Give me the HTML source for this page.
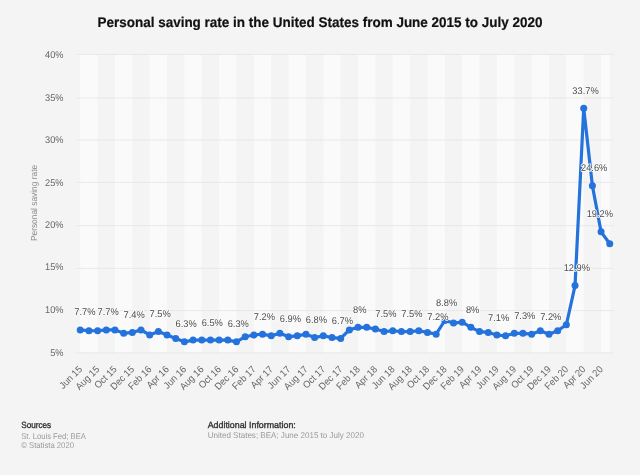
<!DOCTYPE html>
<html><head><meta charset="utf-8"><style>
html,body{margin:0;padding:0;background:#f4f4f4;width:640px;height:475px;overflow:hidden}
svg{display:block;will-change:transform;text-rendering:geometricPrecision;font-family:"Liberation Sans",sans-serif}
</style></head><body>
<svg width="640" height="475" viewBox="0 0 640 475">
<rect x="0" y="0" width="640" height="475" fill="#f4f4f4"/>
<rect x="80.24" y="54.50" width="17.36" height="298.40" fill="#fafafa"/>
<rect x="114.96" y="54.50" width="17.36" height="298.40" fill="#fafafa"/>
<rect x="149.69" y="54.50" width="17.36" height="298.40" fill="#fafafa"/>
<rect x="184.41" y="54.50" width="17.36" height="298.40" fill="#fafafa"/>
<rect x="219.13" y="54.50" width="17.36" height="298.40" fill="#fafafa"/>
<rect x="253.85" y="54.50" width="17.36" height="298.40" fill="#fafafa"/>
<rect x="288.58" y="54.50" width="17.36" height="298.40" fill="#fafafa"/>
<rect x="323.30" y="54.50" width="17.36" height="298.40" fill="#fafafa"/>
<rect x="358.02" y="54.50" width="17.36" height="298.40" fill="#fafafa"/>
<rect x="392.74" y="54.50" width="17.36" height="298.40" fill="#fafafa"/>
<rect x="427.47" y="54.50" width="17.36" height="298.40" fill="#fafafa"/>
<rect x="462.19" y="54.50" width="17.36" height="298.40" fill="#fafafa"/>
<rect x="496.91" y="54.50" width="17.36" height="298.40" fill="#fafafa"/>
<rect x="531.63" y="54.50" width="17.36" height="298.40" fill="#fafafa"/>
<rect x="566.36" y="54.50" width="17.36" height="298.40" fill="#fafafa"/>
<rect x="601.08" y="54.50" width="8.68" height="298.40" fill="#fafafa"/>
<line x1="75.9" y1="54.40" x2="614.1" y2="54.40" stroke="#e3e3e3" stroke-width="1" stroke-dasharray="1.5,0.5"/>
<text x="63.50" y="58.25" text-anchor="end" font-size="9.8" fill="#666" textLength="18.41" lengthAdjust="spacingAndGlyphs">40%</text>
<line x1="75.9" y1="97.90" x2="614.1" y2="97.90" stroke="#e3e3e3" stroke-width="1" stroke-dasharray="1.5,0.5"/>
<text x="63.50" y="100.65" text-anchor="end" font-size="9.8" fill="#666" textLength="18.41" lengthAdjust="spacingAndGlyphs">35%</text>
<line x1="75.9" y1="140.10" x2="614.1" y2="140.10" stroke="#e3e3e3" stroke-width="1" stroke-dasharray="1.5,0.5"/>
<text x="63.50" y="143.35" text-anchor="end" font-size="9.8" fill="#666" textLength="18.41" lengthAdjust="spacingAndGlyphs">30%</text>
<line x1="75.9" y1="182.40" x2="614.1" y2="182.40" stroke="#e3e3e3" stroke-width="1" stroke-dasharray="1.5,0.5"/>
<text x="63.50" y="185.60" text-anchor="end" font-size="9.8" fill="#666" textLength="18.41" lengthAdjust="spacingAndGlyphs">25%</text>
<line x1="75.9" y1="225.70" x2="614.1" y2="225.70" stroke="#e3e3e3" stroke-width="1" stroke-dasharray="1.5,0.5"/>
<text x="63.50" y="227.65" text-anchor="end" font-size="9.8" fill="#666" textLength="18.41" lengthAdjust="spacingAndGlyphs">20%</text>
<line x1="75.9" y1="268.40" x2="614.1" y2="268.40" stroke="#e3e3e3" stroke-width="1" stroke-dasharray="1.5,0.5"/>
<text x="63.50" y="269.95" text-anchor="end" font-size="9.8" fill="#666" textLength="18.41" lengthAdjust="spacingAndGlyphs">15%</text>
<line x1="75.9" y1="310.60" x2="614.1" y2="310.60" stroke="#e3e3e3" stroke-width="1" stroke-dasharray="1.5,0.5"/>
<text x="63.50" y="312.80" text-anchor="end" font-size="9.8" fill="#666" textLength="18.41" lengthAdjust="spacingAndGlyphs">10%</text>
<line x1="75.9" y1="352.90" x2="614.1" y2="352.90" stroke="#e3e3e3" stroke-width="1" stroke-dasharray="1.5,0.5"/>
<text x="63.50" y="355.50" text-anchor="end" font-size="9.8" fill="#666" textLength="13.30" lengthAdjust="spacingAndGlyphs">5%</text>
<text x="0.00" y="0.00" text-anchor="middle" font-size="8.8" fill="#8a8a8a" textLength="76.20" lengthAdjust="spacingAndGlyphs" transform="translate(36.5,203.00) rotate(-90)">Personal saving rate</text>
<text x="320.00" y="27.00" text-anchor="middle" font-size="14" font-weight="bold" fill="#111" textLength="445.10" lengthAdjust="spacingAndGlyphs" stroke="#111" stroke-width="0.2">Personal saving rate in the United States from June 2015 to July 2020</text>
<text x="0.00" y="0.00" text-anchor="end" font-size="9.8" fill="#666" textLength="27.62" lengthAdjust="spacingAndGlyphs" transform="translate(82.74,369.90) rotate(-45)">Jun 15</text>
<text x="0.00" y="0.00" text-anchor="end" font-size="9.8" fill="#666" textLength="29.16" lengthAdjust="spacingAndGlyphs" transform="translate(100.10,369.90) rotate(-45)">Aug 15</text>
<text x="0.00" y="0.00" text-anchor="end" font-size="9.8" fill="#666" textLength="27.10" lengthAdjust="spacingAndGlyphs" transform="translate(117.46,369.90) rotate(-45)">Oct 15</text>
<text x="0.00" y="0.00" text-anchor="end" font-size="9.8" fill="#666" textLength="29.15" lengthAdjust="spacingAndGlyphs" transform="translate(134.82,369.90) rotate(-45)">Dec 15</text>
<text x="0.00" y="0.00" text-anchor="end" font-size="9.8" fill="#666" textLength="28.64" lengthAdjust="spacingAndGlyphs" transform="translate(152.19,369.90) rotate(-45)">Feb 16</text>
<text x="0.00" y="0.00" text-anchor="end" font-size="9.8" fill="#666" textLength="27.11" lengthAdjust="spacingAndGlyphs" transform="translate(169.55,369.90) rotate(-45)">Apr 16</text>
<text x="0.00" y="0.00" text-anchor="end" font-size="9.8" fill="#666" textLength="27.62" lengthAdjust="spacingAndGlyphs" transform="translate(186.91,369.90) rotate(-45)">Jun 16</text>
<text x="0.00" y="0.00" text-anchor="end" font-size="9.8" fill="#666" textLength="29.16" lengthAdjust="spacingAndGlyphs" transform="translate(204.27,369.90) rotate(-45)">Aug 16</text>
<text x="0.00" y="0.00" text-anchor="end" font-size="9.8" fill="#666" textLength="27.10" lengthAdjust="spacingAndGlyphs" transform="translate(221.63,369.90) rotate(-45)">Oct 16</text>
<text x="0.00" y="0.00" text-anchor="end" font-size="9.8" fill="#666" textLength="29.15" lengthAdjust="spacingAndGlyphs" transform="translate(238.99,369.90) rotate(-45)">Dec 16</text>
<text x="0.00" y="0.00" text-anchor="end" font-size="9.8" fill="#666" textLength="28.64" lengthAdjust="spacingAndGlyphs" transform="translate(256.35,369.90) rotate(-45)">Feb 17</text>
<text x="0.00" y="0.00" text-anchor="end" font-size="9.8" fill="#666" textLength="27.11" lengthAdjust="spacingAndGlyphs" transform="translate(273.71,369.90) rotate(-45)">Apr 17</text>
<text x="0.00" y="0.00" text-anchor="end" font-size="9.8" fill="#666" textLength="27.62" lengthAdjust="spacingAndGlyphs" transform="translate(291.08,369.90) rotate(-45)">Jun 17</text>
<text x="0.00" y="0.00" text-anchor="end" font-size="9.8" fill="#666" textLength="29.16" lengthAdjust="spacingAndGlyphs" transform="translate(308.44,369.90) rotate(-45)">Aug 17</text>
<text x="0.00" y="0.00" text-anchor="end" font-size="9.8" fill="#666" textLength="27.10" lengthAdjust="spacingAndGlyphs" transform="translate(325.80,369.90) rotate(-45)">Oct 17</text>
<text x="0.00" y="0.00" text-anchor="end" font-size="9.8" fill="#666" textLength="29.15" lengthAdjust="spacingAndGlyphs" transform="translate(343.16,369.90) rotate(-45)">Dec 17</text>
<text x="0.00" y="0.00" text-anchor="end" font-size="9.8" fill="#666" textLength="28.64" lengthAdjust="spacingAndGlyphs" transform="translate(360.52,369.90) rotate(-45)">Feb 18</text>
<text x="0.00" y="0.00" text-anchor="end" font-size="9.8" fill="#666" textLength="27.11" lengthAdjust="spacingAndGlyphs" transform="translate(377.88,369.90) rotate(-45)">Apr 18</text>
<text x="0.00" y="0.00" text-anchor="end" font-size="9.8" fill="#666" textLength="27.62" lengthAdjust="spacingAndGlyphs" transform="translate(395.24,369.90) rotate(-45)">Jun 18</text>
<text x="0.00" y="0.00" text-anchor="end" font-size="9.8" fill="#666" textLength="29.16" lengthAdjust="spacingAndGlyphs" transform="translate(412.60,369.90) rotate(-45)">Aug 18</text>
<text x="0.00" y="0.00" text-anchor="end" font-size="9.8" fill="#666" textLength="27.10" lengthAdjust="spacingAndGlyphs" transform="translate(429.97,369.90) rotate(-45)">Oct 18</text>
<text x="0.00" y="0.00" text-anchor="end" font-size="9.8" fill="#666" textLength="29.15" lengthAdjust="spacingAndGlyphs" transform="translate(447.33,369.90) rotate(-45)">Dec 18</text>
<text x="0.00" y="0.00" text-anchor="end" font-size="9.8" fill="#666" textLength="28.64" lengthAdjust="spacingAndGlyphs" transform="translate(464.69,369.90) rotate(-45)">Feb 19</text>
<text x="0.00" y="0.00" text-anchor="end" font-size="9.8" fill="#666" textLength="27.11" lengthAdjust="spacingAndGlyphs" transform="translate(482.05,369.90) rotate(-45)">Apr 19</text>
<text x="0.00" y="0.00" text-anchor="end" font-size="9.8" fill="#666" textLength="27.62" lengthAdjust="spacingAndGlyphs" transform="translate(499.41,369.90) rotate(-45)">Jun 19</text>
<text x="0.00" y="0.00" text-anchor="end" font-size="9.8" fill="#666" textLength="29.16" lengthAdjust="spacingAndGlyphs" transform="translate(516.77,369.90) rotate(-45)">Aug 19</text>
<text x="0.00" y="0.00" text-anchor="end" font-size="9.8" fill="#666" textLength="27.10" lengthAdjust="spacingAndGlyphs" transform="translate(534.13,369.90) rotate(-45)">Oct 19</text>
<text x="0.00" y="0.00" text-anchor="end" font-size="9.8" fill="#666" textLength="29.15" lengthAdjust="spacingAndGlyphs" transform="translate(551.50,369.90) rotate(-45)">Dec 19</text>
<text x="0.00" y="0.00" text-anchor="end" font-size="9.8" fill="#666" textLength="28.64" lengthAdjust="spacingAndGlyphs" transform="translate(568.86,369.90) rotate(-45)">Feb 20</text>
<text x="0.00" y="0.00" text-anchor="end" font-size="9.8" fill="#666" textLength="27.11" lengthAdjust="spacingAndGlyphs" transform="translate(586.22,369.90) rotate(-45)">Apr 20</text>
<text x="0.00" y="0.00" text-anchor="end" font-size="9.8" fill="#666" textLength="27.62" lengthAdjust="spacingAndGlyphs" transform="translate(603.58,369.90) rotate(-45)">Jun 20</text>
<polyline points="80.24,329.88 88.92,330.73 97.60,330.73 106.28,329.88 114.96,329.88 123.64,333.29 132.32,332.44 141.00,329.88 149.69,335.00 158.37,331.59 167.05,335.00 175.73,338.41 184.41,341.82 193.09,340.11 201.77,340.11 210.45,340.11 219.13,340.11 227.81,340.11 236.49,341.82 245.17,336.70 253.85,335.00 262.53,334.14 271.21,335.85 279.90,333.29 288.58,336.70 297.26,335.85 305.94,334.14 314.62,337.55 323.30,335.85 331.98,337.55 340.66,338.41 349.34,329.88 358.02,327.32 366.70,327.32 375.38,329.03 384.06,331.59 392.74,330.73 401.42,331.59 410.10,331.59 418.79,330.73 427.47,332.44 436.15,334.14 444.83,320.50 453.51,323.06 462.19,322.21 470.87,327.32 479.55,331.59 488.23,332.44 496.91,335.00 505.59,335.85 514.27,333.29 522.95,333.29 531.63,334.14 540.31,330.73 549.00,334.14 557.68,330.73 566.36,324.77 575.04,285.55 583.72,108.21 592.40,185.80 601.08,231.83 609.76,243.77" fill="none" stroke="#2472dc" stroke-width="3.2" stroke-linejoin="round" stroke-linecap="round"/>
<circle cx="80.24" cy="329.88" r="3.5" fill="#2472dc"/>
<circle cx="88.92" cy="330.73" r="3.5" fill="#2472dc"/>
<circle cx="97.60" cy="330.73" r="3.5" fill="#2472dc"/>
<circle cx="106.28" cy="329.88" r="3.5" fill="#2472dc"/>
<circle cx="114.96" cy="329.88" r="3.5" fill="#2472dc"/>
<circle cx="123.64" cy="333.29" r="3.5" fill="#2472dc"/>
<circle cx="132.32" cy="332.44" r="3.5" fill="#2472dc"/>
<circle cx="141.00" cy="329.88" r="3.5" fill="#2472dc"/>
<circle cx="149.69" cy="335.00" r="3.5" fill="#2472dc"/>
<circle cx="158.37" cy="331.59" r="3.5" fill="#2472dc"/>
<circle cx="167.05" cy="335.00" r="3.5" fill="#2472dc"/>
<circle cx="175.73" cy="338.41" r="3.5" fill="#2472dc"/>
<circle cx="184.41" cy="341.82" r="3.5" fill="#2472dc"/>
<circle cx="193.09" cy="340.11" r="3.5" fill="#2472dc"/>
<circle cx="201.77" cy="340.11" r="3.5" fill="#2472dc"/>
<circle cx="210.45" cy="340.11" r="3.5" fill="#2472dc"/>
<circle cx="219.13" cy="340.11" r="3.5" fill="#2472dc"/>
<circle cx="227.81" cy="340.11" r="3.5" fill="#2472dc"/>
<circle cx="236.49" cy="341.82" r="3.5" fill="#2472dc"/>
<circle cx="245.17" cy="336.70" r="3.5" fill="#2472dc"/>
<circle cx="253.85" cy="335.00" r="3.5" fill="#2472dc"/>
<circle cx="262.53" cy="334.14" r="3.5" fill="#2472dc"/>
<circle cx="271.21" cy="335.85" r="3.5" fill="#2472dc"/>
<circle cx="279.90" cy="333.29" r="3.5" fill="#2472dc"/>
<circle cx="288.58" cy="336.70" r="3.5" fill="#2472dc"/>
<circle cx="297.26" cy="335.85" r="3.5" fill="#2472dc"/>
<circle cx="305.94" cy="334.14" r="3.5" fill="#2472dc"/>
<circle cx="314.62" cy="337.55" r="3.5" fill="#2472dc"/>
<circle cx="323.30" cy="335.85" r="3.5" fill="#2472dc"/>
<circle cx="331.98" cy="337.55" r="3.5" fill="#2472dc"/>
<circle cx="340.66" cy="338.41" r="3.5" fill="#2472dc"/>
<circle cx="349.34" cy="329.88" r="3.5" fill="#2472dc"/>
<circle cx="358.02" cy="327.32" r="3.5" fill="#2472dc"/>
<circle cx="366.70" cy="327.32" r="3.5" fill="#2472dc"/>
<circle cx="375.38" cy="329.03" r="3.5" fill="#2472dc"/>
<circle cx="384.06" cy="331.59" r="3.5" fill="#2472dc"/>
<circle cx="392.74" cy="330.73" r="3.5" fill="#2472dc"/>
<circle cx="401.42" cy="331.59" r="3.5" fill="#2472dc"/>
<circle cx="410.10" cy="331.59" r="3.5" fill="#2472dc"/>
<circle cx="418.79" cy="330.73" r="3.5" fill="#2472dc"/>
<circle cx="427.47" cy="332.44" r="3.5" fill="#2472dc"/>
<circle cx="436.15" cy="334.14" r="3.5" fill="#2472dc"/>
<circle cx="444.83" cy="320.50" r="3.5" fill="#2472dc"/>
<circle cx="453.51" cy="323.06" r="3.5" fill="#2472dc"/>
<circle cx="462.19" cy="322.21" r="3.5" fill="#2472dc"/>
<circle cx="470.87" cy="327.32" r="3.5" fill="#2472dc"/>
<circle cx="479.55" cy="331.59" r="3.5" fill="#2472dc"/>
<circle cx="488.23" cy="332.44" r="3.5" fill="#2472dc"/>
<circle cx="496.91" cy="335.00" r="3.5" fill="#2472dc"/>
<circle cx="505.59" cy="335.85" r="3.5" fill="#2472dc"/>
<circle cx="514.27" cy="333.29" r="3.5" fill="#2472dc"/>
<circle cx="522.95" cy="333.29" r="3.5" fill="#2472dc"/>
<circle cx="531.63" cy="334.14" r="3.5" fill="#2472dc"/>
<circle cx="540.31" cy="330.73" r="3.5" fill="#2472dc"/>
<circle cx="549.00" cy="334.14" r="3.5" fill="#2472dc"/>
<circle cx="557.68" cy="330.73" r="3.5" fill="#2472dc"/>
<circle cx="566.36" cy="324.77" r="3.5" fill="#2472dc"/>
<circle cx="575.04" cy="285.55" r="3.5" fill="#2472dc"/>
<circle cx="583.72" cy="108.21" r="3.5" fill="#2472dc"/>
<circle cx="592.40" cy="185.80" r="3.5" fill="#2472dc"/>
<circle cx="601.08" cy="231.83" r="3.5" fill="#2472dc"/>
<circle cx="609.76" cy="243.77" r="3.5" fill="#2472dc"/>
<text x="84.84" y="315.48" text-anchor="middle" font-size="9.8" fill="#4d4d4d" textLength="21.20" lengthAdjust="spacingAndGlyphs" stroke="#fbfbfb" stroke-width="1.6" stroke-linejoin="round" paint-order="stroke">7.7%</text>
<text x="108.08" y="315.48" text-anchor="middle" font-size="9.8" fill="#4d4d4d" textLength="21.20" lengthAdjust="spacingAndGlyphs" stroke="#fbfbfb" stroke-width="1.6" stroke-linejoin="round" paint-order="stroke">7.7%</text>
<text x="134.12" y="318.04" text-anchor="middle" font-size="9.8" fill="#4d4d4d" textLength="21.20" lengthAdjust="spacingAndGlyphs" stroke="#fbfbfb" stroke-width="1.6" stroke-linejoin="round" paint-order="stroke">7.4%</text>
<text x="160.17" y="317.19" text-anchor="middle" font-size="9.8" fill="#4d4d4d" textLength="21.20" lengthAdjust="spacingAndGlyphs" stroke="#fbfbfb" stroke-width="1.6" stroke-linejoin="round" paint-order="stroke">7.5%</text>
<text x="186.21" y="327.42" text-anchor="middle" font-size="9.8" fill="#4d4d4d" textLength="21.20" lengthAdjust="spacingAndGlyphs" stroke="#fbfbfb" stroke-width="1.6" stroke-linejoin="round" paint-order="stroke">6.3%</text>
<text x="212.25" y="325.71" text-anchor="middle" font-size="9.8" fill="#4d4d4d" textLength="21.20" lengthAdjust="spacingAndGlyphs" stroke="#fbfbfb" stroke-width="1.6" stroke-linejoin="round" paint-order="stroke">6.5%</text>
<text x="238.29" y="327.42" text-anchor="middle" font-size="9.8" fill="#4d4d4d" textLength="21.20" lengthAdjust="spacingAndGlyphs" stroke="#fbfbfb" stroke-width="1.6" stroke-linejoin="round" paint-order="stroke">6.3%</text>
<text x="264.33" y="319.74" text-anchor="middle" font-size="9.8" fill="#4d4d4d" textLength="21.20" lengthAdjust="spacingAndGlyphs" stroke="#fbfbfb" stroke-width="1.6" stroke-linejoin="round" paint-order="stroke">7.2%</text>
<text x="290.38" y="322.30" text-anchor="middle" font-size="9.8" fill="#4d4d4d" textLength="21.20" lengthAdjust="spacingAndGlyphs" stroke="#fbfbfb" stroke-width="1.6" stroke-linejoin="round" paint-order="stroke">6.9%</text>
<text x="316.42" y="323.15" text-anchor="middle" font-size="9.8" fill="#4d4d4d" textLength="21.20" lengthAdjust="spacingAndGlyphs" stroke="#fbfbfb" stroke-width="1.6" stroke-linejoin="round" paint-order="stroke">6.8%</text>
<text x="342.46" y="324.01" text-anchor="middle" font-size="9.8" fill="#4d4d4d" textLength="21.20" lengthAdjust="spacingAndGlyphs" stroke="#fbfbfb" stroke-width="1.6" stroke-linejoin="round" paint-order="stroke">6.7%</text>
<text x="359.82" y="312.92" text-anchor="middle" font-size="9.8" fill="#4d4d4d" textLength="13.44" lengthAdjust="spacingAndGlyphs" stroke="#fbfbfb" stroke-width="1.6" stroke-linejoin="round" paint-order="stroke">8%</text>
<text x="385.86" y="317.19" text-anchor="middle" font-size="9.8" fill="#4d4d4d" textLength="21.20" lengthAdjust="spacingAndGlyphs" stroke="#fbfbfb" stroke-width="1.6" stroke-linejoin="round" paint-order="stroke">7.5%</text>
<text x="411.90" y="317.19" text-anchor="middle" font-size="9.8" fill="#4d4d4d" textLength="21.20" lengthAdjust="spacingAndGlyphs" stroke="#fbfbfb" stroke-width="1.6" stroke-linejoin="round" paint-order="stroke">7.5%</text>
<text x="437.95" y="319.74" text-anchor="middle" font-size="9.8" fill="#4d4d4d" textLength="21.20" lengthAdjust="spacingAndGlyphs" stroke="#fbfbfb" stroke-width="1.6" stroke-linejoin="round" paint-order="stroke">7.2%</text>
<text x="446.63" y="306.10" text-anchor="middle" font-size="9.8" fill="#4d4d4d" textLength="21.20" lengthAdjust="spacingAndGlyphs" stroke="#fbfbfb" stroke-width="1.6" stroke-linejoin="round" paint-order="stroke">8.8%</text>
<text x="472.67" y="312.92" text-anchor="middle" font-size="9.8" fill="#4d4d4d" textLength="13.44" lengthAdjust="spacingAndGlyphs" stroke="#fbfbfb" stroke-width="1.6" stroke-linejoin="round" paint-order="stroke">8%</text>
<text x="498.71" y="320.60" text-anchor="middle" font-size="9.8" fill="#4d4d4d" textLength="21.20" lengthAdjust="spacingAndGlyphs" stroke="#fbfbfb" stroke-width="1.6" stroke-linejoin="round" paint-order="stroke">7.1%</text>
<text x="524.75" y="318.89" text-anchor="middle" font-size="9.8" fill="#4d4d4d" textLength="21.20" lengthAdjust="spacingAndGlyphs" stroke="#fbfbfb" stroke-width="1.6" stroke-linejoin="round" paint-order="stroke">7.3%</text>
<text x="550.80" y="319.74" text-anchor="middle" font-size="9.8" fill="#4d4d4d" textLength="21.20" lengthAdjust="spacingAndGlyphs" stroke="#fbfbfb" stroke-width="1.6" stroke-linejoin="round" paint-order="stroke">7.2%</text>
<text x="576.84" y="271.15" text-anchor="middle" font-size="9.8" fill="#4d4d4d" textLength="26.37" lengthAdjust="spacingAndGlyphs" stroke="#fbfbfb" stroke-width="1.6" stroke-linejoin="round" paint-order="stroke">12.9%</text>
<text x="585.52" y="93.81" text-anchor="middle" font-size="9.8" fill="#4d4d4d" textLength="26.37" lengthAdjust="spacingAndGlyphs" stroke="#fbfbfb" stroke-width="1.6" stroke-linejoin="round" paint-order="stroke">33.7%</text>
<text x="594.20" y="171.40" text-anchor="middle" font-size="9.8" fill="#4d4d4d" textLength="26.37" lengthAdjust="spacingAndGlyphs" stroke="#fbfbfb" stroke-width="1.6" stroke-linejoin="round" paint-order="stroke">24.6%</text>
<text x="599.88" y="217.43" text-anchor="middle" font-size="9.8" fill="#4d4d4d" textLength="26.37" lengthAdjust="spacingAndGlyphs" stroke="#fbfbfb" stroke-width="1.6" stroke-linejoin="round" paint-order="stroke">19.2%</text>
<text x="21.25" y="428.30" font-size="9" fill="#333" textLength="29.90" lengthAdjust="spacingAndGlyphs" stroke="#333" stroke-width="0.35">Sources</text>
<text x="21.25" y="438.75" font-size="8.3" fill="#999" textLength="64.60" lengthAdjust="spacingAndGlyphs">St. Louis Fed; BEA</text>
<text x="21.25" y="447.75" font-size="8.3" fill="#999" textLength="52.70" lengthAdjust="spacingAndGlyphs">© Statista 2020</text>
<text x="207.70" y="428.10" font-size="9" fill="#333" textLength="88.10" lengthAdjust="spacingAndGlyphs" stroke="#333" stroke-width="0.35">Additional Information:</text>
<text x="207.70" y="438.40" font-size="8.3" fill="#999" textLength="156.20" lengthAdjust="spacingAndGlyphs">United States; BEA; June 2015 to July 2020</text>
</svg></body></html>
